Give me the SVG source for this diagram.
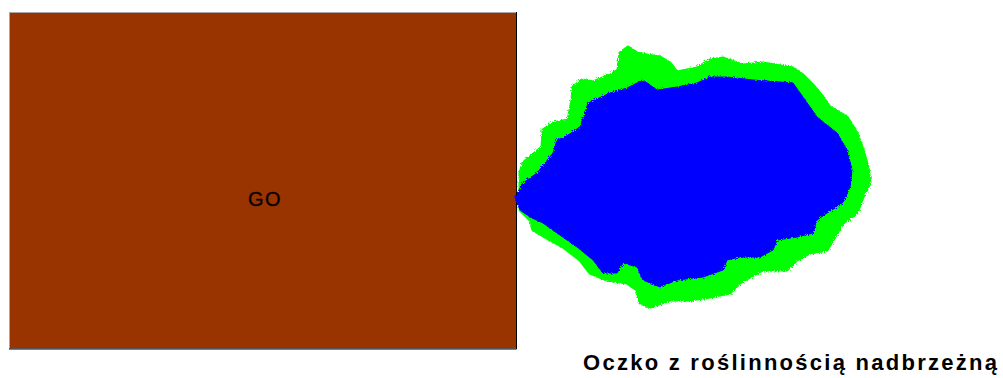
<svg xmlns="http://www.w3.org/2000/svg" width="1003" height="378" viewBox="0 0 1003 378">
<style>
.lbl{font-family:"Liberation Sans",Arial,sans-serif;fill:#000}
</style>
<defs>
<filter id="rough" x="-5%" y="-5%" width="110%" height="110%">
<feTurbulence type="fractalNoise" baseFrequency="0.7" numOctaves="2" seed="3"/>
<feDisplacementMap in="SourceGraphic" scale="4"/>
</filter>
</defs>
<rect width="1003" height="378" fill="#fff"/>
<g id="go">
<rect x="9.5" y="12.5" width="507" height="336" fill="#993300" stroke="#a8a8a8"/>
<path d="M516.5 12 V349 H9" fill="none" stroke="#000"/>
<text class="lbl" x="265" y="206" font-size="20" letter-spacing="1.5" text-anchor="middle" fill="#1a0800" stroke="#1a0800" stroke-width="0.4">GO</text>
</g>
<g id="pond" filter="url(#rough)">
<path fill="#00ff00" stroke="#00ff00" stroke-width="3" stroke-linejoin="round" d="M520 173 L523 163 L542 147 L543 130 L553 123 L568 120 L572 100 L573 87 L582 80 L593 82 L610 75 L618 70 L620 53 L628 47 L637 53 L647 55 L660 57 L670 63 L677 72 L697 68 L710 60 L723 58 L743 65 L763 63 L793 68 L803 75 L813 85 L823 97 L830 107 L847 117 L857 133 L863 150 L868 167 L870 183 L863 197 L857 213 L843 223 L833 240 L827 250 L810 253 L797 260 L787 270 L763 270 L750 277 L740 283 L730 293 L710 297 L690 300 L670 300 L650 307 L640 303 L637 290 L627 283 L607 280 L590 273 L580 260 L563 247 L550 240 L533 230 L530 220 L520 210 Z"/>
<path fill="#0000ff" stroke="#0000ff" stroke-width="1" stroke-linejoin="round" d="M515 197 L523 183 L537 173 L553 153 L557 140 L565 137 L580 127 L588 103 L610 93 L627 88 L643 80 L657 90 L677 87 L697 83 L710 77 L727 77 L753 80 L793 83 L803 97 L817 117 L837 133 L847 150 L852 170 L850 187 L843 203 L827 213 L817 220 L813 233 L797 237 L777 240 L773 250 L760 257 L740 257 L727 260 L723 270 L703 277 L677 280 L660 287 L643 280 L637 267 L623 263 L617 273 L603 273 L593 260 L577 247 L557 233 L543 223 L530 217 L520 210 Z"/>
</g>
<text id="caption" class="lbl" x="583" y="370" font-size="22" font-weight="bold" textLength="414" lengthAdjust="spacing">Oczko z roślinnością nadbrzeżną</text>
</svg>
